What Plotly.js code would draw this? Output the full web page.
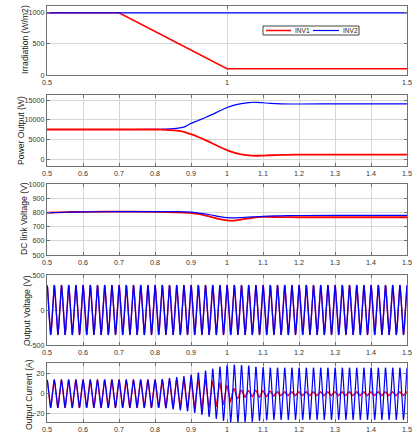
<!DOCTYPE html>
<html><head><meta charset="utf-8">
<script src="https://cdn.plot.ly/plotly-3.0.1.min.js"></script>
<style>html,body{margin:0;padding:0;background:#fff}#c{width:416px;height:434px}</style>
</head><body><div id="c"></div>
<script>
// ---- Series names
const seriesNames = ['INV1', 'INV2'];

// ---- Irradiation (W/m2)
const irrT    = [0.5, 0.7, 1.0, 1.5];
const irrINV1 = [1000, 1000, 100, 100];
const irrINV2 = [1000, 1000, 1000, 1000];

// ---- Power output (W)
const powT    = [0.5, 0.6, 0.7, 0.8, 0.82, 0.84, 0.86, 0.88, 0.9, 0.92, 0.94, 0.96, 0.98, 1.0, 1.02, 1.04, 1.06, 1.08, 1.1, 1.12, 1.15, 1.2, 1.3, 1.4, 1.5];
const powINV1 = [7500, 7500, 7500, 7500, 7450, 7350, 7200, 6900, 6300, 5600, 4800, 3950, 3050, 2250, 1600, 1150, 900, 830, 850, 950, 1050, 1100, 1100, 1100, 1100];
const powINV2 = [7500, 7500, 7500, 7520, 7570, 7660, 7800, 8100, 9050, 9800, 10550, 11350, 12250, 13100, 13700, 14100, 14350, 14420, 14300, 14150, 14020, 13980, 14000, 14000, 14000];

// ---- DC link voltage (V)
const dcT    = [0.5, 0.55, 0.6, 0.7, 0.8, 0.85, 0.88, 0.9, 0.92, 0.95, 0.98, 1.0, 1.02, 1.04, 1.07, 1.1, 1.15, 1.2, 1.3, 1.5];
const dcINV1 = [798, 802, 804, 805, 804, 801, 799, 796, 790, 772, 752, 744, 742, 750, 762, 768, 767, 766, 766, 766];
const dcINV2 = [797, 801, 803, 805, 806, 805, 804, 802, 796, 785, 770, 763, 762, 764, 768, 772, 776, 778, 779, 779];

// ---- Output voltage: peak amplitude (V), 50 Hz grid
const gridFreq    = 50;
const voltAmpINV1 = 345;
const voltAmpINV2 = 355;

// ---- Output current: peak amplitude of each 20 ms cycle (A), 0.5 s .. 1.5 s
const curAmpINV1 = [14,14,14,14,14,14,14,14,14,14, 14,14,14,14,14,14,14,14,14,14,
                    14,14,14,13,11,8,5,3.5,3,3.5, 3,2.5,2,2,2,2,2,2,2,2, 2,2,2,2,2,2,2,2,2,2];
const curAmpINV2 = [14,14,14,14,14,14,14,14,14,14, 14,14,14,14,14,14,14.5,15.5,16.5,17.5,
                    19,21,23,25,27,28.5,29,28.5,28,27, 26.5,26,26,26,26,26,26,26,26,26, 26,26,26,26,26,26,26,26,26,26];

// sample times for the AC waveforms
const acT = [];
for (let i = 0; i <= 2000; i++) acT.push(0.5 + i * 0.0005);
function wave(ampFn, phase) {
  return acT.map(t => ampFn(t) * Math.cos(2 * Math.PI * gridFreq * t + phase));
}
function cycleAmp(arr) {
  return t => arr[Math.max(0, Math.min(arr.length - 1, Math.floor((t - 0.495) / 0.02)))];
}

const RED = '#ff0000', BLUE = '#0000ff';
const traces = [
  {x: irrT, y: irrINV1, name: seriesNames[0], mode: 'lines', line: {color: RED, width: 1.5}, xaxis: 'x', yaxis: 'y'},
  {x: irrT, y: irrINV2, name: seriesNames[1], mode: 'lines', line: {color: BLUE, width: 1.2}, xaxis: 'x', yaxis: 'y'},
  {x: powT, y: powINV2, name: seriesNames[1], mode: 'lines', line: {color: BLUE, width: 1.2, shape: 'spline'}, xaxis: 'x2', yaxis: 'y2'},
  {x: powT, y: powINV1, name: seriesNames[0], mode: 'lines', line: {color: RED, width: 1.8, shape: 'spline'}, xaxis: 'x2', yaxis: 'y2'},
  {x: dcT, y: dcINV1, name: seriesNames[0], mode: 'lines', line: {color: RED, width: 1.8, shape: 'spline'}, xaxis: 'x3', yaxis: 'y3'},
  {x: dcT, y: dcINV2, name: seriesNames[1], mode: 'lines', line: {color: BLUE, width: 1.2, shape: 'spline'}, xaxis: 'x3', yaxis: 'y3'},
  {x: acT, y: wave(() => voltAmpINV1, -0.07), name: seriesNames[0], mode: 'lines', line: {color: RED, width: 1.3}, xaxis: 'x4', yaxis: 'y4'},
  {x: acT, y: wave(() => voltAmpINV2, 0), name: seriesNames[1], mode: 'lines', line: {color: BLUE, width: 1.3}, xaxis: 'x4', yaxis: 'y4'},
  {x: acT, y: wave(cycleAmp(curAmpINV1), 0.2), name: seriesNames[0], mode: 'lines', line: {color: RED, width: 1.3}, xaxis: 'x5', yaxis: 'y5'},
  {x: acT, y: wave(cycleAmp(curAmpINV2), 0), name: seriesNames[1], mode: 'lines', line: {color: BLUE, width: 1.2}, xaxis: 'x5', yaxis: 'y5'}
];

const W = 416, H = 434;
const xDom = [47 / W, 407 / W];
function yDom(top, bot) { return [1 - bot / H, 1 - top / H]; }
const FAM = 'Liberation Sans, Arial, sans-serif';
const tickFont = {family: FAM, size: 7.2, color: '#333'};
function xax(anchor, dtick) {
  return {domain: xDom, anchor: anchor, range: [0.5, 1.5], dtick: dtick, tick0: 0.5, showgrid: true, gridcolor: '#d6d6d6',
          showline: true, mirror: 'ticks', linecolor: '#707070', ticks: 'inside', ticklen: 3, tickcolor: '#707070',
          tickfont: tickFont, zeroline: false};
}
function yax(anchor, dom, range, tickvals) {
  return {domain: dom, anchor: anchor, range: range, tickvals: tickvals, tickformat: 'd', showgrid: true, gridcolor: '#d6d6d6',
          showline: true, mirror: 'ticks', linecolor: '#707070', ticks: 'inside', ticklen: 3, tickcolor: '#707070',
          tickfont: tickFont, zeroline: false};
}
const titleFont = {family: FAM, size: 8.6, color: '#222'};
function ytitle(text, x, yc) {
  return {text: text, xref: 'paper', yref: 'paper', x: x / W, y: 1 - yc / H, textangle: -90,
          showarrow: false, xanchor: 'center', yanchor: 'middle', font: titleFont};
}
// compact legend box inside the first panel (paper pixel positions)
function px(x) { return x / W; }
function py(y) { return 1 - y / H; }
const legendShapes = [
  {type: 'rect', xref: 'paper', yref: 'paper', x0: px(263), x1: px(359), y0: py(35), y1: py(26),
   fillcolor: '#fff', line: {color: '#444', width: 1}, layer: 'above'},
  {type: 'line', xref: 'paper', yref: 'paper', x0: px(266), x1: px(291), y0: py(30.5), y1: py(30.5),
   line: {color: RED, width: 1.5}, layer: 'above'},
  {type: 'line', xref: 'paper', yref: 'paper', x0: px(313), x1: px(339), y0: py(30.5), y1: py(30.5),
   line: {color: BLUE, width: 1.2}, layer: 'above'}
];
const legendFont = {family: FAM, size: 6.6, color: '#222'};
const legendTexts = [
  {text: seriesNames[0], xref: 'paper', yref: 'paper', x: px(293), y: py(30.5), xanchor: 'left', yanchor: 'middle', showarrow: false, font: legendFont},
  {text: seriesNames[1], xref: 'paper', yref: 'paper', x: px(340.5), y: py(30.5), xanchor: 'left', yanchor: 'middle', showarrow: false, font: legendFont}
];
const layout = {
  width: W, height: H, margin: {l: 0, r: 0, t: 0, b: 0, autoexpand: false}, paper_bgcolor: '#fff', plot_bgcolor: '#fff',
  showlegend: false,
  xaxis: xax('y', 0.5),
  xaxis2: xax('y2', 0.1),
  xaxis3: xax('y3', 0.1),
  xaxis4: xax('y4', 0.1),
  xaxis5: xax('y5', 0.1),
  yaxis: yax('x', yDom(6, 75), [0, 1110], [0, 500, 1000]),
  yaxis2: yax('x2', yDom(95, 166), [-1780, 16270], [0, 5000, 10000, 15000]),
  yaxis3: yax('x3', yDom(184, 255), [500, 1000], [500, 600, 700, 800, 900, 1000]),
  yaxis4: yax('x4', yDom(275, 345), [-500, 500], [-500, 0, 500]),
  yaxis5: yax('x5', yDom(363, 422), [-28.3, 30.7], [-20, 0, 20]),
  shapes: legendShapes,
  annotations: [
    ytitle('Irradiation (W/m2)', 25, 40),
    ytitle('Power Output (W)', 21, 131),
    ytitle('DC link Voltage (V)', 24, 219),
    ytitle('Output Voltage (V)', 27, 311),
    ytitle('Output Current (A)', 29, 395)
  ].concat(legendTexts)
};
Plotly.newPlot('c', traces, layout, {staticPlot: true, displayModeBar: false});
</script></body></html>
